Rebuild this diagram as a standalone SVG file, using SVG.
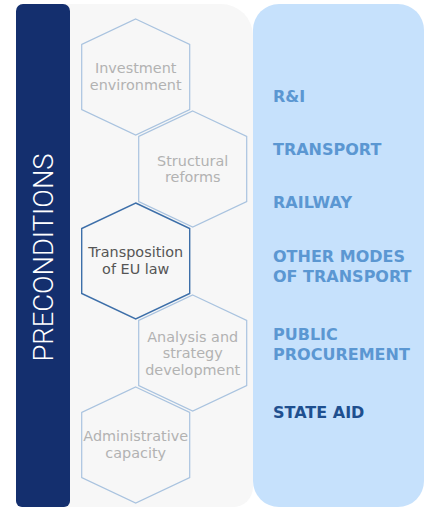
<svg xmlns="http://www.w3.org/2000/svg" xmlns:xlink="http://www.w3.org/1999/xlink" width="424" height="508" viewBox="0 0 424 508">
  <style>
    .hex { fill: #f7f7f7; stroke: #a9c3df; stroke-width: 1.2; }
    .hex-active { fill: #f7f7f7; stroke: #3d6fa9; stroke-width: 1.4; }
    .htext { font-family: "DejaVu Sans", Verdana, sans-serif; font-size: 14.4px; fill: #b2b2b2; text-anchor: middle; }
    .htext-active { fill: #555555; }
    .rtext { font-family: "DejaVu Sans", Verdana, sans-serif; font-size: 16px; font-weight: bold; fill: #5b97d2; }
    .rtext-active { fill: #1e4f8f; }
  </style>
  <defs>
    <polygon id="hexshape" points="0,-58 54,-32.5 54,32.5 0,58 -54,32.5 -54,-32.5"/>
  </defs>
  <rect width="424" height="508" fill="#ffffff"/>

  <g id="panel-gray">
    <path d="M 20 4 H 221 A 32 32 0 0 1 253 36 V 487 A 20 20 0 0 1 233 507 H 20 Z" fill="#f7f7f7"/>
  </g>
  <g id="panel-blue">
    <rect x="253" y="4" width="171" height="503" rx="26" ry="26" fill="#c6e1fc"/>
  </g>
  <g id="preconditions">
    <path d="M 23 4 H 63 A 7 7 0 0 1 70 11 V 501 A 6 6 0 0 1 64 507 H 22 A 6 6 0 0 1 16 501 V 11 A 7 7 0 0 1 23 4 Z" fill="#142f6e"/>
    <text transform="translate(52.5 257.5) rotate(-90)" text-anchor="middle" font-family="Roboto, 'DejaVu Sans', sans-serif" font-weight="300" font-size="27" fill="#ffffff" textLength="208" lengthAdjust="spacingAndGlyphs">PRECONDITIONS</text>
  </g>

  <g id="connectors"></g>

  <g id="hex-investment" transform="translate(135.7 77)">
    <use xlink:href="#hexshape" class="hex"/>
    <text class="htext" y="-4">Investment</text>
    <text class="htext" y="13">environment</text>
  </g>
  <g id="hex-structural" transform="translate(192.7 169)">
    <use xlink:href="#hexshape" class="hex"/>
    <text class="htext" y="-3.5">Structural</text>
    <text class="htext" y="13">reforms</text>
  </g>
  <g id="hex-transposition" transform="translate(135.7 261)">
    <use xlink:href="#hexshape" class="hex-active"/>
    <text class="htext htext-active" y="-4.5">Transposition</text>
    <text class="htext htext-active" y="12.5">of EU law</text>
  </g>
  <g id="hex-analysis" transform="translate(192.7 353)">
    <use xlink:href="#hexshape" class="hex"/>
    <text class="htext" y="-11.5">Analysis and</text>
    <text class="htext" y="5">strategy</text>
    <text class="htext" y="22">development</text>
  </g>
  <g id="hex-administrative" transform="translate(135.7 445)">
    <use xlink:href="#hexshape" class="hex"/>
    <text class="htext" y="-4">Administrative</text>
    <text class="htext" y="13">capacity</text>
  </g>

  <g id="label-ri"><text class="rtext" x="273" y="102">R&amp;I</text></g>
  <g id="label-transport"><text class="rtext" x="273" y="155">TRANSPORT</text></g>
  <g id="label-railway"><text class="rtext" x="273" y="208">RAILWAY</text></g>
  <g id="label-other-modes">
    <text class="rtext" x="273" y="262">OTHER MODES</text>
    <text class="rtext" x="273" y="281.5">OF TRANSPORT</text>
  </g>
  <g id="label-public-procurement">
    <text class="rtext" x="273" y="340">PUBLIC</text>
    <text class="rtext" x="273" y="359.5">PROCUREMENT</text>
  </g>
  <g id="label-state-aid"><text class="rtext rtext-active" x="273" y="418">STATE AID</text></g>
</svg>
